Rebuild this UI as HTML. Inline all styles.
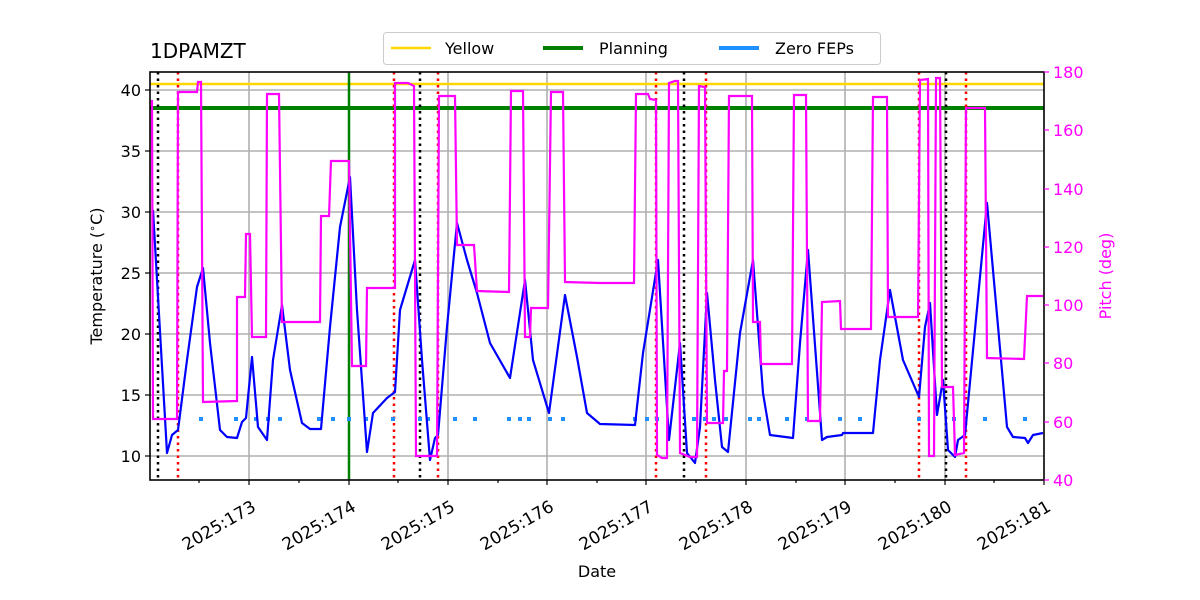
<!DOCTYPE html>
<html><head><meta charset="utf-8"><style>body{margin:0;background:#fff}svg{display:block}text{font-family:"DejaVu Sans","Liberation Sans",sans-serif}</style></head><body>
<svg width="1200" height="600" viewBox="0 0 1200 600">
<rect width="1200" height="600" fill="#fff"/>
<g stroke="#b0b0b0" stroke-width="1.6">
<line x1="249" y1="72" x2="249" y2="480"/><line x1="349" y1="72" x2="349" y2="480"/><line x1="448" y1="72" x2="448" y2="480"/><line x1="547" y1="72" x2="547" y2="480"/><line x1="646" y1="72" x2="646" y2="480"/><line x1="746" y1="72" x2="746" y2="480"/><line x1="845" y1="72" x2="845" y2="480"/><line x1="945" y1="72" x2="945" y2="480"/>
<line x1="150" y1="456" x2="1044" y2="456"/><line x1="150" y1="395" x2="1044" y2="395"/><line x1="150" y1="334" x2="1044" y2="334"/><line x1="150" y1="273" x2="1044" y2="273"/><line x1="150" y1="212" x2="1044" y2="212"/><line x1="150" y1="151" x2="1044" y2="151"/><line x1="150" y1="90" x2="1044" y2="90"/>
</g>
<line x1="150" y1="84" x2="1044" y2="84" stroke="#ffd700" stroke-width="2.5"/>
<line x1="150" y1="108" x2="1044" y2="108" stroke="#008000" stroke-width="4"/>
<line x1="349" y1="72" x2="349" y2="480" stroke="#008000" stroke-width="2.5"/>
<g stroke="#000" stroke-width="2.5" stroke-dasharray="2.5,4">
<line x1="158" y1="72" x2="158" y2="480"/><line x1="420" y1="72" x2="420" y2="480"/><line x1="684" y1="72" x2="684" y2="480"/><line x1="946" y1="72" x2="946" y2="480"/></g>
<g stroke="#f00" stroke-width="2.5" stroke-dasharray="2.5,4">
<line x1="178" y1="72" x2="178" y2="480"/><line x1="394" y1="72" x2="394" y2="480"/><line x1="438" y1="72" x2="438" y2="480"/><line x1="656" y1="72" x2="656" y2="480"/><line x1="706" y1="72" x2="706" y2="480"/><line x1="919" y1="72" x2="919" y2="480"/><line x1="966" y1="72" x2="966" y2="480"/></g>
<g fill="#1e90ff">
<rect x="199" y="417" width="4" height="4"/><rect x="234" y="417" width="4" height="4"/><rect x="254" y="417" width="4" height="4"/><rect x="266" y="417" width="4" height="4"/><rect x="278" y="417" width="4" height="4"/><rect x="317" y="417" width="4" height="4"/><rect x="331" y="417" width="4" height="4"/><rect x="347" y="417" width="4" height="4"/><rect x="364" y="417" width="4" height="4"/><rect x="391" y="417" width="4" height="4"/><rect x="418" y="417" width="4" height="4"/><rect x="426" y="417" width="4" height="4"/><rect x="453" y="417" width="4" height="4"/><rect x="473" y="417" width="4" height="4"/><rect x="507" y="417" width="4" height="4"/><rect x="518" y="417" width="4" height="4"/><rect x="527" y="417" width="4" height="4"/><rect x="548" y="417" width="4" height="4"/><rect x="561" y="417" width="4" height="4"/>
<rect x="633" y="417" width="4" height="4"/><rect x="645" y="417" width="4" height="4"/><rect x="655" y="417" width="4" height="4"/><rect x="692" y="417" width="4" height="4"/><rect x="703" y="417" width="4" height="4"/><rect x="712" y="417" width="4" height="4"/><rect x="724" y="417" width="4" height="4"/><rect x="748" y="417" width="4" height="4"/><rect x="757" y="417" width="4" height="4"/><rect x="785" y="417" width="4" height="4"/><rect x="805" y="417" width="4" height="4"/><rect x="838" y="417" width="4" height="4"/><rect x="858" y="417" width="4" height="4"/><rect x="917" y="417" width="4" height="4"/><rect x="952" y="417" width="4" height="4"/><rect x="983" y="417" width="4" height="4"/><rect x="1023" y="417" width="4" height="4"/></g>
<polyline fill="none" stroke="#0000ff" stroke-width="2.2" stroke-linejoin="round" points="153,210 167,453 172,435 178,430 187,360 197,287 203,268 210,343 220,430 227,437 237,438 242,422 246,418 252,357 258,427 267,440 273,360 282,305 290,370 302,423 310,429 321,429 330,327 340,227 350,177 357,310 367,452 373,413 387,398 395,392 400,310 415,260 422,360 430,460 435,438 438,435 447,327 457,223 467,260 477,293 490,343 510,378 525,280 533,360 549,413 565,295 577,357 587,413 600,424 635,425 643,353 658,260 669,440 680,343 687,453 695,463 700,427 707,293 715,380 722,447 728,452 740,333 753,260 763,393 770,435 793,438 800,343 808,250 822,440 827,437 842,435 843,433 873,433 880,360 890,290 903,360 919,397 925,327 930,303 937,415 943,380 948,450 955,457 958,440 965,435 987,203 1007,427 1013,437 1025,438 1028,443 1033,435 1043,433"/>
<polyline fill="none" stroke="#ff00ff" stroke-width="2.2" stroke-linejoin="miter" points="152,100 153,419 177,419 178,92 197,92 198,82 201,82 203,402 237,401 237,297 245,297 246,234 250,234 252,337 266,337 267,94 279,94 282,322 320,322 321,216 329,216 331,161 349,161 352,366 366,366 367,288 395,288 395,83 408,83 414,86 416,456 437,456 439,96 455,96 457,245 474,245 477,291 509,292 511,91 523,91 525,337 530,337 531,308 548,308 551,92 563,92 564,188 565,282 600,283 634,283 636,94 648,94 650,99 656,100 657,455 662,458 667,458 669,83 675,81 678,81 680,453 690,457 697,457 699,86 705,87 707,423 723,423 724,371 727,371 729,96 752,96 753,322 760,322 761,364 792,364 794,95 806,95 808,421 820,421 822,302 840,301 841,329 871,329 873,97 887,97 888,317 918,317 920,80 928,79 929,456 934,456 936,78 940,78 942,387 953,387 955,455 964,453 966,108 985,108 987,358 1024,359 1027,296 1043,296"/>
<rect x="150" y="72" width="894" height="408" fill="none" stroke="#000" stroke-width="1.6"/>
<g stroke="#000" stroke-width="1.2">
<line x1="150" y1="456" x2="145" y2="456"/><line x1="150" y1="395" x2="145" y2="395"/><line x1="150" y1="334" x2="145" y2="334"/><line x1="150" y1="273" x2="145" y2="273"/><line x1="150" y1="212" x2="145" y2="212"/><line x1="150" y1="151" x2="145" y2="151"/><line x1="150" y1="90" x2="145" y2="90"/>
<line x1="249" y1="480" x2="249" y2="485"/><line x1="349" y1="480" x2="349" y2="485"/><line x1="448" y1="480" x2="448" y2="485"/><line x1="547" y1="480" x2="547" y2="485"/><line x1="646" y1="480" x2="646" y2="485"/><line x1="746" y1="480" x2="746" y2="485"/><line x1="845" y1="480" x2="845" y2="485"/><line x1="945" y1="480" x2="945" y2="485"/><line x1="1044" y1="480" x2="1044" y2="485"/>
<line x1="199" y1="480" x2="199" y2="483"/><line x1="299" y1="480" x2="299" y2="483"/><line x1="398" y1="480" x2="398" y2="483"/><line x1="498" y1="480" x2="498" y2="483"/><line x1="597" y1="480" x2="597" y2="483"/><line x1="696" y1="480" x2="696" y2="483"/><line x1="796" y1="480" x2="796" y2="483"/><line x1="895" y1="480" x2="895" y2="483"/><line x1="994" y1="480" x2="994" y2="483"/>
</g>
<g stroke="#ff00ff" stroke-width="1.2">
<line x1="1044" y1="72" x2="1049" y2="72"/><line x1="1044" y1="130" x2="1049" y2="130"/><line x1="1044" y1="189" x2="1049" y2="189"/><line x1="1044" y1="247" x2="1049" y2="247"/><line x1="1044" y1="305" x2="1049" y2="305"/><line x1="1044" y1="363" x2="1049" y2="363"/><line x1="1044" y1="422" x2="1049" y2="422"/><line x1="1044" y1="480" x2="1049" y2="480"/></g>
<g font-size="16" text-anchor="end" fill="#000">
<text x="141" y="462">10</text><text x="141" y="401">15</text><text x="141" y="340">20</text><text x="141" y="279">25</text><text x="141" y="218">30</text><text x="141" y="157">35</text><text x="141" y="96">40</text></g>
<g font-size="16" fill="#ff00ff">
<text x="1053" y="78">180</text><text x="1053" y="136">160</text><text x="1053" y="195">140</text><text x="1053" y="253">120</text><text x="1053" y="311">100</text><text x="1053" y="369">80</text><text x="1053" y="428">60</text><text x="1053" y="486">40</text></g>
<g font-size="17" text-anchor="end" fill="#000">
<text transform="translate(257,510) rotate(-30)">2025:173</text><text transform="translate(357,510) rotate(-30)">2025:174</text><text transform="translate(456,510) rotate(-30)">2025:175</text><text transform="translate(555,510) rotate(-30)">2025:176</text><text transform="translate(654,510) rotate(-30)">2025:177</text><text transform="translate(754,510) rotate(-30)">2025:178</text><text transform="translate(853,510) rotate(-30)">2025:179</text><text transform="translate(953,510) rotate(-30)">2025:180</text><text transform="translate(1052,510) rotate(-30)">2025:181</text></g>
<text x="597" y="577" font-size="16" text-anchor="middle">Date</text>
<text transform="translate(102,276) rotate(-90)" font-size="16" text-anchor="middle">Temperature (<tspan font-size="11" dy="-6">∘</tspan><tspan dy="6">C)</tspan></text>
<text transform="translate(1111,276) rotate(-90)" font-size="16" text-anchor="middle" fill="#ff00ff">Pitch (deg)</text>
<text x="150" y="58" font-size="20">1DPAMZT</text>
<rect x="383.5" y="32.5" width="497" height="32" rx="3" fill="#fff" stroke="#ccc"/>
<line x1="391" y1="48" x2="431" y2="48" stroke="#ffd700" stroke-width="2.5"/><text x="445" y="54" font-size="16">Yellow</text>
<line x1="543" y1="48" x2="583" y2="48" stroke="#008000" stroke-width="4"/><text x="599" y="54" font-size="16">Planning</text>
<line x1="719" y1="48" x2="759" y2="48" stroke="#1e90ff" stroke-width="4"/><text x="775" y="54" font-size="16">Zero FEPs</text>
</svg>
</body></html>
